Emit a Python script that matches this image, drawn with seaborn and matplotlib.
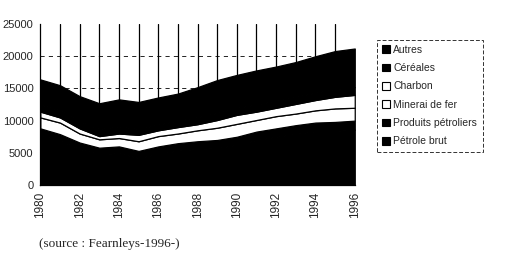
import numpy as np
import pandas as pd
import matplotlib
matplotlib.use("Agg")
import matplotlib.pyplot as plt
import seaborn as sns
from matplotlib.patches import Patch

years = list(range(1980, 1997))
petrole_brut = [7800, 6900, 5600, 4800, 4950, 4200, 4850, 5350, 5600, 5750, 6250, 7000, 7500, 7950, 8350, 8400, 8600]
produits_petroliers = [1000, 1000, 1000, 1000, 1050, 1100, 1150, 1150, 1200, 1250, 1250, 1300, 1300, 1350, 1350, 1400, 1400]
minerai_de_fer = [1700, 1800, 1400, 1300, 1300, 1500, 1600, 1500, 1700, 1900, 2000, 1800, 1900, 1800, 1900, 2100, 2000]
charbon = [900, 800, 800, 500, 700, 1000, 900, 1000, 950, 1200, 1400, 1300, 1300, 1500, 1600, 1800, 2000]
cereales = [1100, 1100, 1100, 1100, 1100, 900, 900, 1000, 1100, 1100, 1100, 1100, 1100, 1100, 1150, 1200, 1200]
autres = [3900, 3900, 3900, 4000, 4200, 4200, 4200, 4200, 4650, 5100, 5100, 5300, 5300, 5400, 5650, 5900, 6000]

series_names = ["Pétrole brut", "Produits pétroliers", "Minerai de fer", "Charbon", "Céréales", "Autres"]
series_colors = ["#000000", "#000000", "#ffffff", "#ffffff", "#000000", "#000000"]
y_ticks = [0, 5000, 10000, 15000, 20000, 25000]
x_ticks = list(range(1980, 1997, 2))
source_text = "(source : Fearnleys-1996-)"

df = pd.DataFrame({
    "year": years,
    "Pétrole brut": petrole_brut,
    "Produits pétroliers": produits_petroliers,
    "Minerai de fer": minerai_de_fer,
    "Charbon": charbon,
    "Céréales": cereales,
    "Autres": autres,
})

sns.set_style("white")
plt.rcParams["font.family"] = ["Liberation Sans", "DejaVu Sans"]

fig = plt.figure(figsize=(5.24, 2.64), dpi=100)
ax = fig.add_axes([0.077, 0.299, 0.600, 0.610])

# background grid
for yv in y_ticks[1:-1]:
    ax.axhline(yv, color="black", lw=0.6, ls=(0, (5, 5)), zorder=0)
for xv in years[1:-1]:
    ax.axvline(xv, color="black", lw=0.9, zorder=0)

ax.stackplot(df["year"], [df[n] for n in series_names], colors=series_colors,
             edgecolor="black", linewidth=0.9, zorder=2)

ax.set_xlim(1980, 1996)
ax.set_ylim(0, 25000)
ax.set_yticks(y_ticks)
ax.set_yticklabels([str(v) for v in y_ticks], fontsize=8)
ax.set_xticks(x_ticks)
ax.set_xticklabels([str(v) for v in x_ticks], rotation=90, fontsize=8.5)
ax.set_xticks(years, minor=True)
ax.tick_params(axis="x", which="both", direction="out", length=3, width=0.8, pad=2)
ax.tick_params(axis="y", which="both", direction="out", length=3, width=0.8, pad=2)
for s in ["top", "right"]:
    ax.spines[s].set_visible(False)
for s in ["left", "bottom"]:
    ax.spines[s].set_color("black")
    ax.spines[s].set_linewidth(0.9)
ax.set_xlabel("")
ax.set_ylabel("")

handles = [Patch(facecolor=c, edgecolor="black", linewidth=0.8, label=n)
           for n, c in zip(series_names, series_colors)][::-1]
leg = fig.legend(handles=handles, loc="upper left", bbox_to_anchor=(0.72, 0.85),
                 fontsize=7.5, frameon=True, fancybox=False, edgecolor="black",
                 handlelength=0.75, handleheight=0.75, handletextpad=0.3,
                 labelspacing=0.8, borderpad=0.5, borderaxespad=0)
leg.get_frame().set_linewidth(0.7)
leg.get_frame().set_linestyle((0, (4, 2)))

fig.text(0.075, 0.065, source_text, fontsize=9.5, family=["Liberation Serif", "DejaVu Serif"])

fig.savefig("out.png", dpi=100)
